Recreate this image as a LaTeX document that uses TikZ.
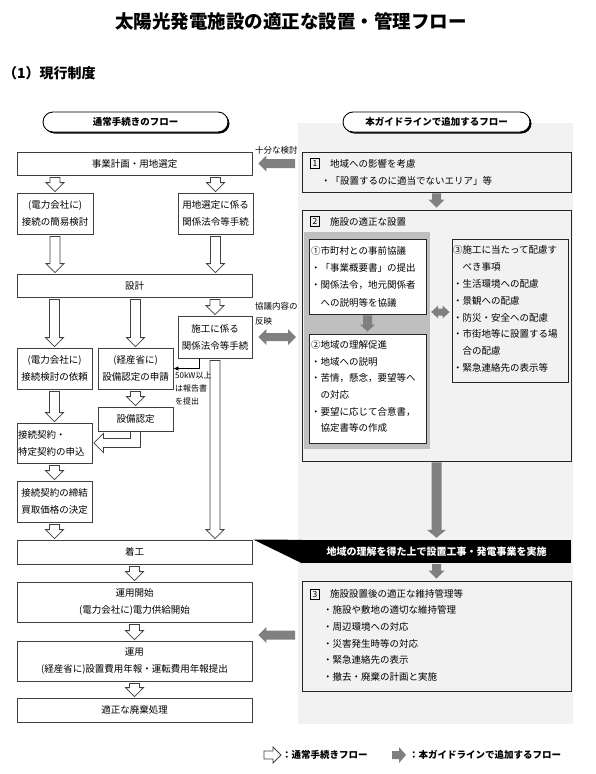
\documentclass[tikz,border=0pt]{standalone}
\usepackage{fontspec}
\setmainfont{Noto Sans CJK JP}
\usetikzlibrary{calc,arrows.meta}
\definecolor{panelgray}{HTML}{F2F2F2}
\definecolor{innergray}{HTML}{BFBFBF}
\definecolor{arrgray}{HTML}{808080}
\newcommand{\fsA}{\fontsize{9.5}{17}\selectfont}
\newcommand{\fsB}{\fontsize{9.5}{16.6}\selectfont}
\newcommand{\fsC}{\fontsize{9.5}{16.9}\selectfont}
\newcommand{\fsD}{\fontsize{9.5}{17.3}\selectfont}
\newcommand{\HollowDown}[2]{\draw[harr] ($(#1)+(-5,2)$) -- ($(#1)+(5,2)$) -- ($(#2)+(5,-10)$) -- ($(#2)+(9,-10)$) -- ($(#2)+(0,-1)$) -- ($(#2)+(-9,-10)$) -- ($(#2)+(-5,-10)$) -- cycle;}
\newcommand{\GrayDown}[5]{\fill[arrgray] ($(#1)+(-#3,1)$) -- ($(#1)+(#3,1)$) -- ($(#2)+(#3,-#5-2)$) -- ($(#2)+(#4,-#5-2)$) -- ($(#2)+(0,-2)$) -- ($(#2)+(-#4,-#5-2)$) -- ($(#2)+(-#3,-#5-2)$) -- cycle;}
\newcommand{\GrayLeft}[5]{\fill[arrgray] ($(#1)+(0,-#3)$) -- ($(#1)+(0,#3)$) -- ($(#2)+(#5,#3)$) -- ($(#2)+(#5,#4)$) -- (#2) -- ($(#2)+(#5,-#4)$) -- ($(#2)+(#5,-#3)$) -- cycle;}
\newcommand{\GrayDouble}[5]{\fill[arrgray] (#1) -- ($(#1)+(#5,-#4)$) -- ($(#1)+(#5,-#3)$) -- ($(#2)+(-#5,-#3)$) -- ($(#2)+(-#5,-#4)$) -- (#2) -- ($(#2)+(-#5,#4)$) -- ($(#2)+(-#5,#3)$) -- ($(#1)+(#5,#3)$) -- ($(#1)+(#5,#4)$) -- cycle;}
\newcommand{\ArrowRight}[6]{\draw[#1] ($(#2)+(0,-#4)$) -- ($(#3)+(-#6,-#4)$) -- ($(#3)+(-#6,-#5)$) -- (#3) -- ($(#3)+(-#6,#5)$) -- ($(#3)+(-#6,#4)$) -- ($(#2)+(0,#4)$) -- cycle;}
\begin{document}
\begin{tikzpicture}[x=1pt,y=-1pt,
  sz/.style 2 args={minimum width=#1pt, minimum height=#2pt},
  lbox/.style={draw=black!75, line width=0.8pt, fill=white, inner sep=0pt, align=center, font=\fsA},
  rbox/.style={draw=black!85, line width=0.9pt, inner sep=0pt},
  harr/.style={draw=black!75, fill=white, line width=0.8pt, line join=miter},
  garr/.style={fill=arrgray, draw=none},
  txt/.style={anchor=west, inner sep=0pt, align=left},
  numbox/.style={draw=black, line width=0.7pt, inner sep=0pt, minimum width=8.5pt, minimum height=10pt, font=\fontsize{8.5}{10}\selectfont},
  pill/.style={draw=black, line width=0.9pt, fill=white, rounded corners=10pt, inner sep=0pt, font=\bfseries\fontsize{9.5}{11}\selectfont},
  pillsh/.style={fill=black, draw=none, rounded corners=10pt, inner sep=0pt},
  lbl/.style={anchor=west, inner sep=0pt, align=left, font=\fontsize{8.5}{15}\selectfont}]
\useasboundingbox (0,0) rectangle (595,774);

% titles
\node[inner sep=0pt, font=\bfseries\fontsize{18.5}{20}\selectfont] (title) at (291,21.5) {太陽光発電施設の適正な設置・管理フロー};
\node[txt, font=\bfseries\fontsize{14}{16}\selectfont] (sec) at (3,73.5) {（1）現行制度};

% right panel
\node[fill=panelgray, inner sep=0pt, anchor=north west, sz={275}{601}] (panel) at (298,123) {};

% pills
\node[pillsh, sz={185}{20}] (pLs) at (137,123.5) {};
\node[pill, sz={185}{20}] (pL) at (135.5,122) {通常手続きのフロー};
\node[pillsh, sz={187}{20}] (pRs) at (438,123.5) {};
\node[pill, sz={187}{20}] (pR) at (436.5,122) {本ガイドラインで追加するフロー};

% left column boxes
\node[lbox, sz={235}{23}] (jigyo) at (134.5,163.5) {事業計画・用地選定};
\node[lbox, sz={76}{41}] (kan) at (55,213.5) {(電力会社に)\\接続の簡易検討};
\node[lbox, sz={75}{41}] (yochi) at (215.5,213.5) {用地選定に係る\\関係法令等手続};
\node[lbox, sz={235}{23}] (sekkei) at (134.5,285.5) {設計};
\node[lbox, sz={74}{42}] (sekou) at (215,337) {施工に係る\\関係法令等手続};
\node[lbox, sz={75}{41}] (irai) at (54.5,368.5) {(電力会社に)\\接続検討の依頼};
\node[lbox, sz={75}{41}] (shinsei) at (135.5,368.5) {(経産省に)\\設備認定の申請};
\node[lbox, sz={75}{24}] (nintei) at (135.5,419) {設備認定};
\node[lbox, sz={75}{40}, align=left, text width=73pt] (mosh) at (54.5,443) {接続契約・\\特定契約の申込};
\node[lbox, sz={75}{41}] (teiketsu) at (54.5,501.5) {接続契約の締結\\買取価格の決定};
\node[lbox, sz={235}{24}] (chakko) at (134.5,552) {着工};
\node[lbox, sz={235}{40}] (kaishi) at (134.5,602) {運用開始\\(電力会社に)電力供給開始};
\node[lbox, sz={235}{40}] (unyo) at (134.5,661) {運用\\(経産省に)設置費用年報・運転費用年報提出};
\node[lbox, sz={235}{24}] (haiki) at (134.5,710) {適正な廃棄処理};

% hollow arrows
\HollowDown{jigyo.south -| kan.north}{kan.north}
\HollowDown{jigyo.south -| yochi.north}{yochi.north}
\HollowDown{kan.south}{sekkei.north -| kan.south}
\HollowDown{yochi.south}{sekkei.north -| yochi.south}
\HollowDown{sekkei.south -| irai.north}{irai.north}
\HollowDown{sekkei.south -| shinsei.north}{shinsei.north}
\HollowDown{sekkei.south -| sekou.north}{sekou.north}
\HollowDown{sekou.south}{chakko.north -| sekou.south}
\HollowDown{shinsei.south}{nintei.north}
\HollowDown{irai.south}{mosh.north}
\HollowDown{mosh.south}{teiketsu.north}
\HollowDown{teiketsu.south}{chakko.north -| teiketsu.south}
\HollowDown{chakko.south}{kaishi.north}
\HollowDown{kaishi.south}{unyo.north}
\HollowDown{unyo.south}{haiki.north}
% bent hollow arrow
\draw[harr] ($(nintei.south)+(-5,0)$) -- ($(nintei.south)+(5,0)$) -- ($(nintei.south |- mosh.east)+(5,4.5)$) -- ($(mosh.east)+(11,4.5)$) -- ($(mosh.east)+(11,9.5)$) -- ($(mosh.east)+(1.5,0)$) -- ($(mosh.east)+(11,-9.5)$) -- ($(mosh.east)+(11,-4.5)$) -- ($(nintei.south |- mosh.east)+(-5,-4.5)$) -- cycle;
% thin report arrow
\coordinate (rep) at ($(sekou.south west)+(22,0)$);
\draw[line width=0.7pt, -{Latex[length=5pt,width=4.5pt]}] (rep) |- (shinsei.east);
\node[anchor=north west, inner sep=0pt, align=left, font=\fontsize{8}{13}\selectfont] (reptxt) at (175,372) {50kW以上\\は報告書\\を提出};

% right boxes
\node[rbox, fill=panelgray, sz={269}{40}] (b1) at (436.5,172) {};
\node[numbox] (n1) at (315,163.5) {1};
\node[txt, font=\fsA] (h1) at (330,163.5) {地域への影響を考慮};
\node[txt, font=\fsA] (t1) at (321,181) {・「設置するのに適当でないエリア」等};

\node[rbox, fill=panelgray, sz={269}{251}] (b2) at (436.5,335.5) {};
\node[numbox] (n2) at (315,221.5) {2};
\node[txt, font=\fsA] (h2) at (330,221.5) {施設の適正な設置};
\node[fill=innergray, inner sep=0pt, sz={126}{217}] (inner) at (367,340.5) {};
\node[rbox, fill=white, sz={117}{75}] (bA) at (367.5,276.5) {};
\node[txt, font=\fsD] (tA) at (311,276.5) {①市町村との事前協議\\・「事業概要書」の提出\\・関係法令，地元関係者\\　への説明等を協議};
\node[rbox, fill=white, sz={117}{109}] (bB) at (367.5,388.5) {};
\node[txt, font=\fsB] (tB) at (311,386.5) {②地域の理解促進\\・地域への説明\\・苦情，懸念，要望等へ\\　の対応\\・要望に応じて合意書，\\　協定書等の作成};
\node[rbox, fill=panelgray, sz={116}{143}] (bC) at (510,310.5) {};
\node[txt, font=\fsC] (tC) at (453,309) {③施工に当たって配慮す\\　べき事項\\・生活環境への配慮\\・景観への配慮\\・防災・安全への配慮\\・市街地等に設置する場\\　合の配慮\\・緊急連絡先の表示等};

% banner
\node[fill=black, inner sep=0pt, sz={269}{23}, text=white, font=\bfseries\fontsize{10}{12}\selectfont] (banner) at (436.5,551.5) {地域の理解を得た上で設置工事・発電事業を実施};
\fill ($(chakko.north east)+(1,0)$) -- (banner.north west) -- (banner.south west) -- cycle;

\node[rbox, fill=panelgray, sz={269}{110}] (b3) at (436.5,636) {};
\node[numbox] (n3) at (315,594.5) {3};
\node[txt, font=\fsA] (h3) at (330,594) {施設設置後の適正な維持管理等};
\node[txt, font=\fsB] (t3) at (323,643.5) {・施設や敷地の適切な維持管理\\・周辺環境への対応\\・災害発生時等の対応\\・緊急連絡先の表示\\・撤去・廃棄の計画と実施};

% gray arrows
\GrayDown{b1.south}{b2.north}{4.5}{8}{8}
\GrayDown{bA.south}{bB.north}{4.5}{7.5}{7}
\GrayDown{b2.south}{banner.north}{5}{9.5}{8}
\GrayDown{banner.south}{b3.north}{4.5}{8}{8}

\coordinate (ta) at ($(panel.west |- jigyo.east)+(-3,0)$);
\coordinate (tb) at ($(jigyo.east)+(6,0)$);
\GrayLeft{ta}{tb}{4.5}{8}{8}
\node[lbl] (juubun) at (255,150) {十分な検討};

\coordinate (ua) at ($(panel.west |- b3.center)+(-3,-1)$);
\coordinate (ub) at ($(kaishi.east |- ua)+(6,0)$);
\GrayLeft{ua}{ub}{4.5}{8}{8}

\coordinate (da) at ($(sekou.east)+(6,0)$);
\coordinate (db) at ($(panel.west |- sekou.east)+(-2,0)$);
\GrayDouble{da}{db}{4}{8}{8}
\node[lbl] (kyougi) at (255,313.5) {協議内容の\\反映};

\coordinate (ea) at ($(inner.east |- bC.center)+(1,1.5)$);
\coordinate (eb) at ($(bC.west |- ea)+(-2,0)$);
\GrayDouble{ea}{eb}{3.5}{6.5}{7}

% legend
\node[txt, font=\bfseries\fontsize{9.5}{12}\selectfont] (leg1) at (282,755) {：通常手続きフロー};
\node[txt, font=\bfseries\fontsize{9.5}{12}\selectfont] (leg2) at (409,755) {：本ガイドラインで追加するフロー};
\coordinate (lg1tip) at ($(leg1.west)+(-1,0)$);
\coordinate (lg1tail) at ($(lg1tip)+(-17,0)$);
\ArrowRight{harr}{lg1tail}{lg1tip}{4}{8}{8}
\coordinate (lg2tip) at ($(leg2.west)+(-3,0)$);
\coordinate (lg2tail) at ($(lg2tip)+(-14,0)$);
\ArrowRight{garr}{lg2tail}{lg2tip}{4}{8}{7}
\end{tikzpicture}
\end{document}
